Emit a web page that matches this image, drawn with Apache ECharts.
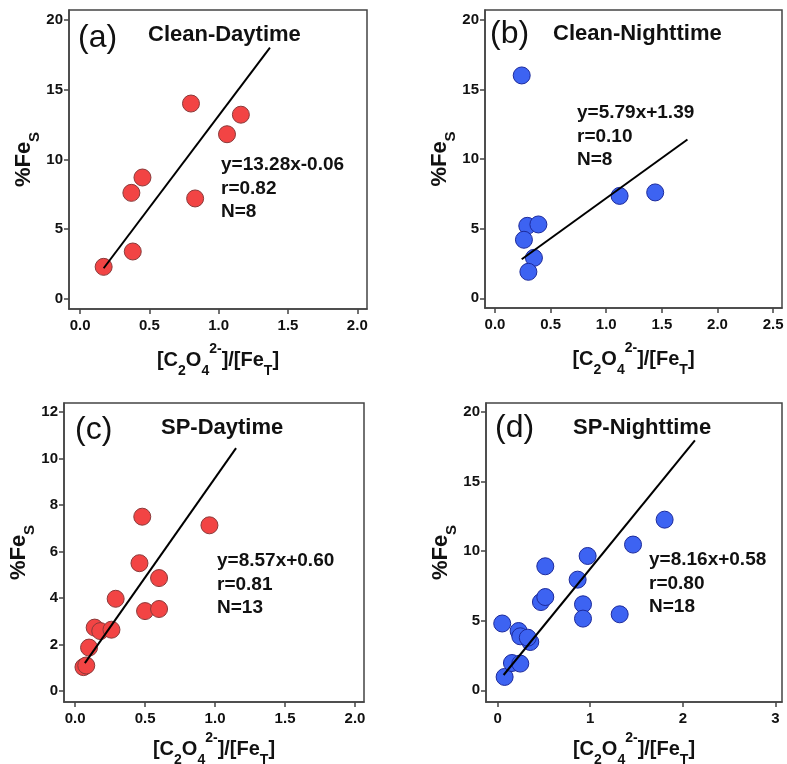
<!DOCTYPE html>
<html><head><meta charset="utf-8">
<script src="https://cdn.jsdelivr.net/npm/echarts@6/dist/echarts.min.js"></script>
<style>html,body{margin:0;padding:0;background:#fff}#c{width:787px;height:764px}</style>
</head><body><div id="c"></div>
<script>
// ---- data ----
const aX = [0.17, 0.38, 0.37, 0.45, 0.80, 0.83, 1.06, 1.16];
const aY = [2.3, 3.4, 7.6, 8.7, 14.0, 7.2, 11.8, 13.2];
const aLine = [[0.17, 2.2], [1.37, 18.0]];

const bX = [0.24, 0.29, 0.26, 0.39, 0.35, 0.30, 1.12, 1.44];
const bY = [16.0, 5.2, 4.2, 5.3, 2.9, 1.9, 7.35, 7.6];
const bLine = [[0.24, 2.8], [1.73, 11.4]];

const cX = [0.06, 0.08, 0.10, 0.14, 0.18, 0.26, 0.29, 0.46, 0.48, 0.50, 0.60, 0.60, 0.96];
const cY = [1.03, 1.1, 1.87, 2.73, 2.58, 2.64, 3.97, 5.5, 7.5, 3.44, 4.86, 3.53, 7.13];
const cLine = [[0.07, 1.2], [1.15, 10.45]];

const dX = [0.05, 0.076, 0.155, 0.245, 0.227, 0.245, 0.353, 0.326, 0.468, 0.515, 0.515, 0.864, 0.922, 0.922, 0.972, 1.318, 1.462, 1.803];
const dY = [4.8, 0.96, 1.96, 1.92, 4.26, 3.88, 3.47, 3.78, 6.34, 6.7, 8.91, 7.95, 6.18, 5.15, 9.65, 5.46, 10.47, 12.26];
const dLine = [[0.065, 1.1], [2.13, 17.95]];

const xTicksA = [0, 0.5, 1, 1.5, 2];
const xTicksB = [0, 0.5, 1, 1.5, 2, 2.5];
const xTicksC = [0, 0.5, 1, 1.5, 2];
const xTicksD = [0, 1, 2, 3];
const yTicks20 = [0, 5, 10, 15, 20];
const yTicks12 = [0, 2, 4, 6, 8, 10, 12];

const panelLetters = ['(a)', '(b)', '(c)', '(d)'];
const panelTitles = ['Clean-Daytime', 'Clean-Nighttime', 'SP-Daytime', 'SP-Nighttime'];
const eqTexts = [
  ['y=13.28x-0.06', 'r=0.82', 'N=8'],
  ['y=5.79x+1.39', 'r=0.10', 'N=8'],
  ['y=8.57x+0.60', 'r=0.81', 'N=13'],
  ['y=8.16x+0.58', 'r=0.80', 'N=18']
];

// ---- layout ----
const FONT = "'Liberation Sans', Arial, sans-serif";
const RED = '#f24444', RED_B = '#8a3a3a';
const BLUE = '#3d63f2', BLUE_B = '#1c2a9c';
const grids = [
  {left: 69, top: 10, width: 298, height: 299},
  {left: 485, top: 10, width: 297, height: 298},
  {left: 64, top: 403, width: 300, height: 299},
  {left: 486, top: 403, width: 296, height: 299}
];
const xr = [[-0.08, 2.07], [-0.09, 2.58], [-0.079, 2.064], [-0.125, 3.07]];
const yr = [[-0.72, 20.7], [-0.7, 20.7], [-0.47, 12.39], [-0.84, 20.64]];
const xt = [xTicksA, xTicksB, xTicksC, xTicksD];
const yt = [yTicks20, yTicks20, yTicks12, yTicks20];
const xFmt = [v => v.toFixed(1), v => v.toFixed(1), v => v.toFixed(1), v => String(v)];
const xNameGap = [33, 33, 29, 29];

const xName = '{m|[C}{s|2}{m|O}{s|4}{p|2-}{m|]/[Fe}{s|T}{m|]}';
const xRich = {
  m: {fontSize: 20, fontWeight: 'bold', fontFamily: FONT, color: '#111', lineHeight: 36, verticalAlign: 'middle'},
  s: {fontSize: 14, fontWeight: 'bold', fontFamily: FONT, color: '#111', lineHeight: 24, verticalAlign: 'bottom'},
  p: {fontSize: 14, fontWeight: 'bold', fontFamily: FONT, color: '#111', lineHeight: 10, verticalAlign: 'top'}
};
const yName = '{m|%Fe}{s|S}';
const yRich = {
  m: {fontSize: 22, fontWeight: 'bold', fontFamily: FONT, color: '#111', lineHeight: 36, verticalAlign: 'middle'},
  s: {fontSize: 15, fontWeight: 'bold', fontFamily: FONT, color: '#111', lineHeight: 24, verticalAlign: 'bottom'}
};

const axisLineStyle = {color: '#444', width: 1.5};
const xAxes = [], yAxes = [], series = [];
for (let i = 0; i < 4; i++) {
  xAxes.push({
    type: 'value', gridIndex: i, min: xr[i][0], max: xr[i][1],
    axisLine: {show: true, onZero: false, lineStyle: axisLineStyle},
    axisTick: {show: true, length: 5, customValues: xt[i], lineStyle: axisLineStyle},
    axisLabel: {customValues: xt[i], formatter: xFmt[i], margin: 9, color: '#111',
      fontSize: 15, fontWeight: 'bold', fontFamily: FONT},
    splitLine: {show: false},
    name: xName, nameLocation: 'middle', nameGap: xNameGap[i],
    nameTextStyle: {rich: xRich}
  });
  yAxes.push({
    type: 'value', gridIndex: i, min: yr[i][0], max: yr[i][1],
    axisLine: {show: true, onZero: false, lineStyle: axisLineStyle},
    axisTick: {show: true, length: 5, customValues: yt[i], lineStyle: axisLineStyle},
    axisLabel: {customValues: yt[i], margin: 6, color: '#111',
      fontSize: 15, fontWeight: 'bold', fontFamily: FONT},
    splitLine: {show: false},
    name: yName, nameLocation: 'middle', nameGap: 26, nameRotate: 90,
    nameTextStyle: {rich: yRich}
  });
}
const pts = [[aX, aY, RED, RED_B, aLine], [bX, bY, BLUE, BLUE_B, bLine],
             [cX, cY, RED, RED_B, cLine], [dX, dY, BLUE, BLUE_B, dLine]];
pts.forEach((p, i) => {
  series.push({
    type: 'scatter', xAxisIndex: i, yAxisIndex: i, symbolSize: 17,
    data: p[0].map((x, k) => [x, p[1][k]]),
    itemStyle: {color: p[2], borderColor: p[3], borderWidth: 1, opacity: 1},
    z: 2
  });
  series.push({
    type: 'line', xAxisIndex: i, yAxisIndex: i, data: p[4], symbol: 'none',
    lineStyle: {color: '#000', width: 2}, z: 3, silent: true
  });
});

// ---- annotation text ----
const letterPos = [[78, 38], [490, 34], [75, 430], [495, 428]];
const titlePos = [[148, 35], [553, 34], [161, 428], [573, 428]];
const eqPos = [[221, 165], [577, 113], [217, 561], [649, 560]];
const graphic = [];
for (let i = 0; i < 4; i++) {
  graphic.push({type: 'text', x: letterPos[i][0], y: letterPos[i][1], z: 10,
    style: {text: panelLetters[i], font: "32px " + FONT, fill: '#111',
      textAlign: 'left', textVerticalAlign: 'middle', verticalAlign: 'middle'}});
  graphic.push({type: 'text', x: titlePos[i][0], y: titlePos[i][1], z: 10,
    style: {text: panelTitles[i], font: "bold 22px " + FONT, fill: '#111',
      textAlign: 'left', textVerticalAlign: 'middle', verticalAlign: 'middle'}});
  eqTexts[i].forEach((t, k) => {
    graphic.push({type: 'text', x: eqPos[i][0], y: eqPos[i][1] + k * 23.5, z: 10,
      style: {text: t, font: "bold 19px " + FONT, fill: '#111',
        textAlign: 'left', textVerticalAlign: 'middle', verticalAlign: 'middle'}});
  });
}

const chart = echarts.init(document.getElementById('c'), null, {renderer: 'canvas'});
chart.setOption({
  animation: false,
  backgroundColor: '#fff',
  grid: grids.map(g => Object.assign({show: true, borderColor: '#444', borderWidth: 1.5,
    containLabel: false, outerBoundsMode: 'none'}, g)),
  xAxis: xAxes, yAxis: yAxes, series: series, graphic: graphic
});
</script></body></html>
